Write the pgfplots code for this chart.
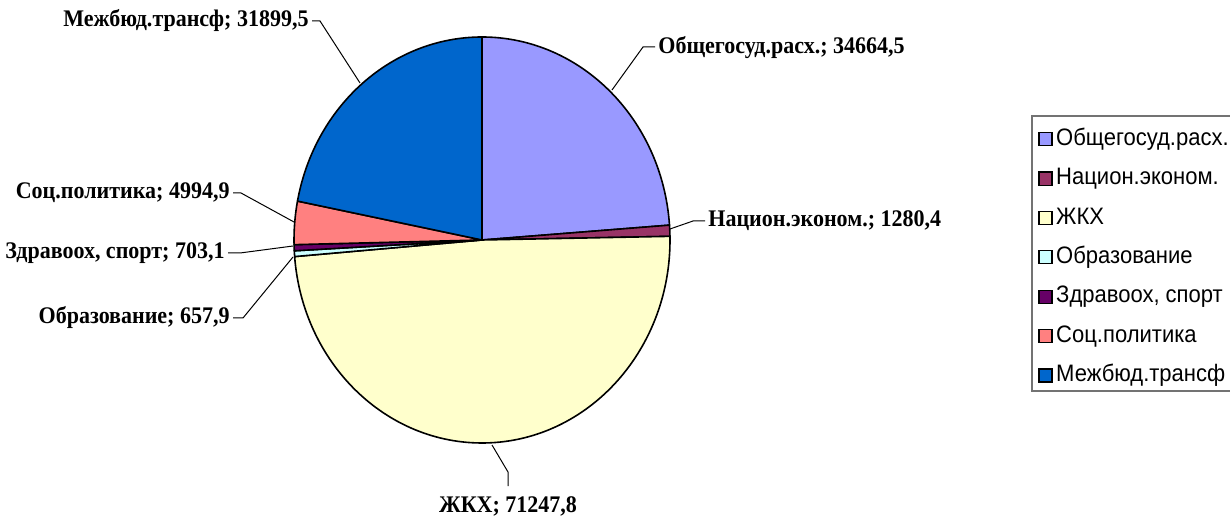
\documentclass[border=0pt]{standalone}
\usepackage{pgfplots}
\usepackage{pgfplotstable}
\pgfplotsset{compat=1.18}
\usepackage{fontspec}
\setmainfont{Liberation Serif}[FakeStretch=0.925]
\newfontfamily\lgfont{Liberation Sans}[FakeStretch=0.925]
\definecolor{cA}{HTML}{9999FF}
\definecolor{cB}{HTML}{993366}
\definecolor{cC}{HTML}{FFFFCC}
\definecolor{cD}{HTML}{CCFFFF}
\definecolor{cE}{HTML}{660066}
\definecolor{cF}{HTML}{FF8080}
\definecolor{cG}{HTML}{0066CC}
\pgfplotstableread{
idx value
0 34664.5
1 1280.4
2 71247.8
3 657.9
4 703.1
5 4994.9
6 31899.5
}\piedata
\begin{document}
\begin{tikzpicture}
\useasboundingbox (0,0) rectangle (615pt,258.5pt);
% read values and compute cumulative angles (clockwise from 12 o'clock)
\pgfkeys{/pgf/fpu=true,/pgf/fpu/output format=fixed}
\pgfplotstablegetelem{0}{value}\of\piedata \pgfmathsetmacro\vA{\pgfplotsretval}
\pgfplotstablegetelem{1}{value}\of\piedata \pgfmathsetmacro\vB{\pgfplotsretval}
\pgfplotstablegetelem{2}{value}\of\piedata \pgfmathsetmacro\vC{\pgfplotsretval}
\pgfplotstablegetelem{3}{value}\of\piedata \pgfmathsetmacro\vD{\pgfplotsretval}
\pgfplotstablegetelem{4}{value}\of\piedata \pgfmathsetmacro\vE{\pgfplotsretval}
\pgfplotstablegetelem{5}{value}\of\piedata \pgfmathsetmacro\vF{\pgfplotsretval}
\pgfplotstablegetelem{6}{value}\of\piedata \pgfmathsetmacro\vG{\pgfplotsretval}
\pgfmathsetmacro\tot{\vA+\vB+\vC+\vD+\vE+\vF+\vG}
\pgfmathsetmacro\kA{0}
\pgfmathsetmacro\kB{\kA+360*\vA/\tot}
\pgfmathsetmacro\kC{\kB+360*\vB/\tot}
\pgfmathsetmacro\kD{\kC+360*\vC/\tot}
\pgfmathsetmacro\kE{\kD+360*\vD/\tot}
\pgfmathsetmacro\kF{\kE+360*\vE/\tot}
\pgfmathsetmacro\kG{\kF+360*\vF/\tot}
\pgfmathsetmacro\kH{360}
\pgfkeys{/pgf/fpu=false}
\def\wedge#1#2#3{%
  \filldraw[fill=#1, draw=black, line width=0.8pt, line join=round]
    (axis cs:482,240) -- (axis cs:{482+188*sin(#2)},{240-203*cos(#2)})
    arc[start angle={90-#2}, end angle={90-#3}, x radius=94pt, y radius=101.5pt] -- cycle;}
\begin{axis}[
  width=615pt, height=258.5pt, scale only axis,
  xmin=0, xmax=1230, ymin=0, ymax=517, y dir=reverse,
  hide axis, clip=false,
  legend image code/.code={\draw[#1, line width=0.6pt] (0pt,-3.25pt) rectangle (6.5pt,3.25pt);},
  legend style={draw=none, fill=none, at={(axis cs:1038,128)}, anchor=north west,
    inner sep=0pt, row sep=8.9pt, column sep=0pt,
    font=\lgfont\fontsize{11.9}{13}\selectfont,
    nodes={inner sep=0pt, text height=8.5pt, text depth=2.3pt},
    /tikz/every odd column/.append style={column sep=1.8pt}},
  legend cell align=left,
]
\addlegendimage{fill=cA, draw=black}\addlegendentry{Общегосуд.расх.}
\addlegendimage{fill=cB, draw=black}\addlegendentry{Национ.эконом.}
\addlegendimage{fill=cC, draw=black}\addlegendentry{ЖКХ}
\addlegendimage{fill=cD, draw=black}\addlegendentry{Образование}
\addlegendimage{fill=cE, draw=black}\addlegendentry{Здравоох, спорт}
\addlegendimage{fill=cF, draw=black}\addlegendentry{Соц.политика}
\addlegendimage{fill=cG, draw=black}\addlegendentry{Межбюд.трансф}
\wedge{cA}{\kA}{\kB}
\wedge{cB}{\kB}{\kC}
\wedge{cC}{\kC}{\kD}
\wedge{cD}{\kD}{\kE}
\wedge{cE}{\kE}{\kF}
\wedge{cF}{\kF}{\kG}
\wedge{cG}{\kG}{\kH}
% legend frame
\draw[black!55, line width=0.6pt] (axis cs:1240,116) -- (axis cs:1032,116) -- (axis cs:1032,391) -- (axis cs:1240,391);
% leader lines
\begin{scope}[line width=0.5pt, black]
\draw (axis cs:312,21) -- (axis cs:320,21) -- (axis cs:360,83);
\draw (axis cs:655,47) -- (axis cs:643,47) -- (axis cs:612,90);
\draw (axis cs:705,221) -- (axis cs:693,221) -- (axis cs:670,229);
\draw (axis cs:233,193) -- (axis cs:241,193) -- (axis cs:294,222);
\draw (axis cs:228,253) -- (axis cs:240,253) -- (axis cs:293,246);
\draw (axis cs:233,318) -- (axis cs:243,318) -- (axis cs:293,257);
\draw (axis cs:492,445) -- (axis cs:508,472) -- (axis cs:508,486);
\end{scope}
% data labels
\begin{scope}[every node/.style={font=\bfseries\fontsize{11.9}{13}\selectfont, inner sep=1pt}]
\node[anchor=east] at (axis cs:311,21) {Межбюд.трансф; 31899,5};
\node[anchor=west] at (axis cs:656,48) {Общегосуд.расх.; 34664,5};
\node[anchor=west] at (axis cs:706,221) {Национ.эконом.; 1280,4};
\node[anchor=east] at (axis cs:232,193) {Соц.политика; 4994,9};
\node[anchor=east] at (axis cs:227,253) {Здравоох, спорт; 703,1};
\node[anchor=east] at (axis cs:232,318) {Образование; 657,9};
\node[anchor=center] at (axis cs:508,506) {ЖКХ; 71247,8};
\end{scope}
\end{axis}
\end{tikzpicture}
\end{document}
